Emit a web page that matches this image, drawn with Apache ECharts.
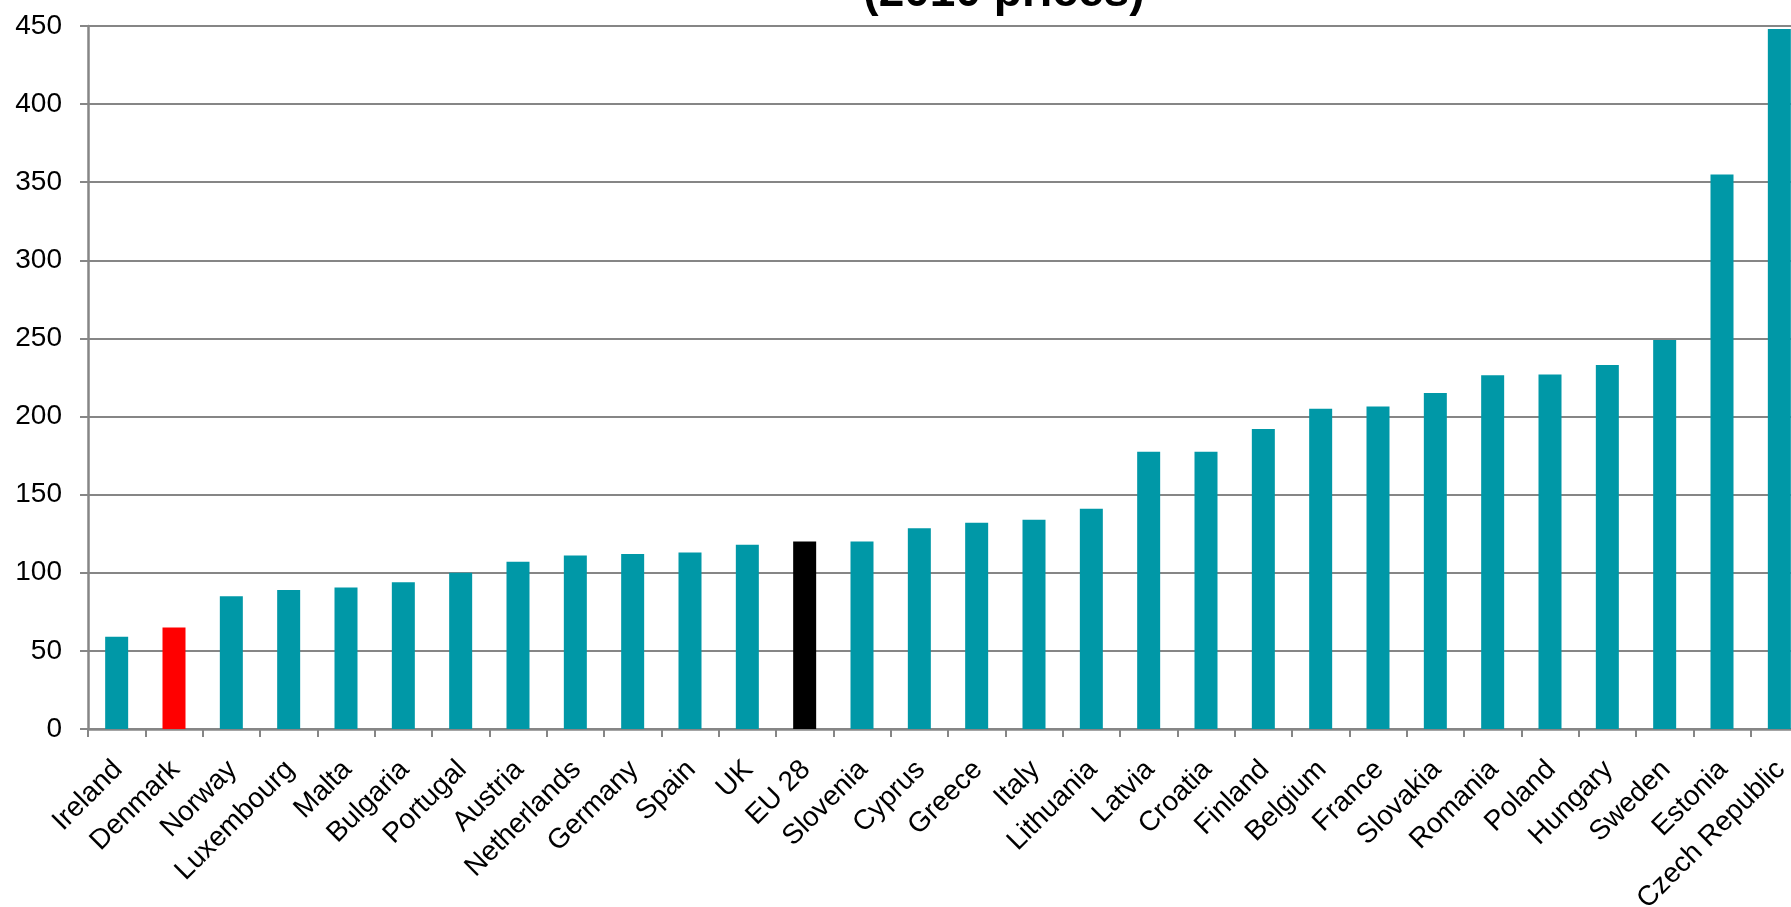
<!DOCTYPE html>
<html>
<head>
<meta charset="utf-8">
<script src="https://cdn.jsdelivr.net/npm/echarts@6/dist/echarts.min.js"></script>
<style>html,body{margin:0;padding:0;background:#fff;overflow:hidden}#c{width:1808px;height:907px}</style>
</head>
<body>
<div id="c"></div>
<script>
const categories = ["Ireland","Denmark","Norway","Luxembourg","Malta","Bulgaria","Portugal","Austria","Netherlands","Germany","Spain","UK","EU 28","Slovenia","Cyprus","Greece","Italy","Lithuania","Latvia","Croatia","Finland","Belgium","France","Slovakia","Romania","Poland","Hungary","Sweden","Estonia","Czech Republic"];
const values = [59,65,85,89,90.5,94,100,107,111,112,113,118,120,120,128.5,132,134,141,177.5,177.5,192,205,206.5,215,226.5,227,233,249,355,448];
const highlight = {"Denmark":"#FF0000","EU 28":"#000000"};
const yTicks = [0,50,100,150,200,250,300,350,400,450];
const titleText = "(2010 prices)";

const chart = echarts.init(document.getElementById('c'));
chart.setOption({
  animation:false,
  backgroundColor:'#ffffff',
  title:{text:titleText,left:999,textAlign:'center',top:-35,
    textStyle:{fontFamily:'Liberation Sans',fontWeight:'bold',fontSize:46,color:'#000'}},
  grid:{left:88,width:1720,top:26,height:703,containLabel:false,outerBoundsMode:'none'},
  xAxis:{type:'category',data:categories,boundaryGap:true,
    axisLine:{lineStyle:{color:'#868686',width:2.5}},
    axisTick:{show:true,alignWithLabel:false,length:8,lineStyle:{color:'#868686',width:2}},
    axisLabel:{interval:0,rotate:45,verticalAlign:'top',padding:[0,12,0,0],fontFamily:'Liberation Sans',fontSize:28,color:'#000',margin:18}},
  yAxis:{type:'value',min:yTicks[0],max:yTicks[yTicks.length-1],interval:50,
    axisLine:{show:true,lineStyle:{color:'#868686',width:2.5}},
    axisTick:{show:true,length:8,lineStyle:{color:'#868686',width:2}},
    splitLine:{lineStyle:{color:'#868686',width:2}},
    axisLabel:{fontFamily:'Liberation Sans',fontSize:28,color:'#000',margin:26}},
  series:[{type:'bar',barWidth:23,
    data:values.map((v,i)=>({value:v,itemStyle:{color:highlight[categories[i]]||'#0098A7'}}))}]
});
</script>
</body>
</html>
